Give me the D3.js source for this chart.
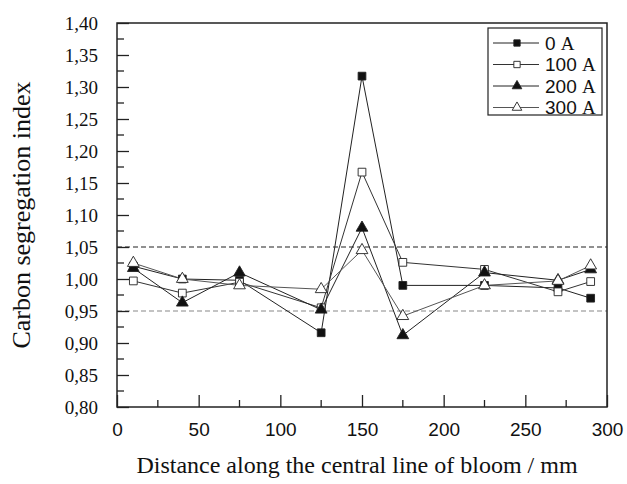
<!DOCTYPE html>
<html>
<head>
<meta charset="utf-8">
<script src="https://cdnjs.cloudflare.com/ajax/libs/d3/7.8.5/d3.min.js"></script>
<style>
  body { margin: 0; background: #fff; }
  svg { display: block; }
  .serif { font-family: "Liberation Serif", "Times New Roman", "DejaVu Serif", serif; }
  .sans { font-family: "Liberation Sans", Arial, sans-serif; }
</style>
</head>
<body>
<svg id="chart" width="627" height="484"></svg>
<script>
// data
var distances = [10, 40, 75, 125, 150, 175, 225, 270, 290];
var current0 = [1.020, 1.000, 0.998, 0.916, 1.317, 0.990, 0.990, 0.986, 0.970];
var current100 = [0.997, 0.978, 0.995, 0.955, 1.167, 1.026, 1.015, 0.980, 0.996];
var current200 = [1.017, 0.963, 1.010, 0.952, 1.080, 0.912, 1.010, 0.998, 1.015];
var current300 = [1.025, 1.000, 0.990, 0.984, 1.045, 0.942, 0.990, 0.997, 1.021];
var seriesNames = ["0", "100", "200", "300"];
var xTicks = [0, 50, 100, 150, 200, 250, 300];
var yTicks = [0.80, 0.85, 0.90, 0.95, 1.00, 1.05, 1.10, 1.15, 1.20, 1.25, 1.30, 1.35, 1.40];
var limitLines = [1.05, 0.95];

var svg = d3.select("#chart");
var margin = { left: 117, top: 23, right: 20, bottom: 77 };
var W = 627 - margin.left - margin.right, H = 484 - margin.top - margin.bottom;

var x = d3.scaleLinear().domain([0, 300]).range([0, W]);
var y = d3.scaleLinear().domain([0.80, 1.40]).range([H, 0]);

var g = svg.append("g").attr("transform", "translate(" + margin.left + "," + margin.top + ")");

var styles = [
  { shape: d3.symbolSquare, size: 60, fill: "#111", line: "#222" },
  { shape: d3.symbolSquare, size: 60, fill: "#fff", line: "#333" },
  { shape: d3.symbolTriangle, size: 60, fill: "#111", line: "#222" },
  { shape: d3.symbolTriangle, size: 60, fill: "#fff", line: "#555" }
];
var allSeries = [current0, current100, current200, current300];

// limit lines
g.selectAll(".limit").data(limitLines).enter().append("line")
  .attr("x1", 0).attr("x2", W)
  .attr("y1", function(d){ return y(d); }).attr("y2", function(d){ return y(d); })
  .attr("stroke", function(d, i){ return i == 0 ? "#222" : "#888"; })
  .attr("stroke-width", 1.1)
  .attr("stroke-dasharray", "5,3");

// lines
var line = d3.line().x(function(d){ return x(d[0]); }).y(function(d){ return y(d[1]); });
allSeries.forEach(function(vals, i){
  var pts = distances.map(function(dx, j){ return [dx, vals[j]]; });
  g.append("path").datum(pts)
    .attr("d", line)
    .attr("fill", "none")
    .attr("stroke", styles[i].line)
    .attr("stroke-width", 1);
});

// markers (drawn after all lines)
allSeries.forEach(function(vals, i){
  var st = styles[i];
  g.selectAll(".m" + i).data(vals).enter().append("path")
    .attr("d", d3.symbol().type(st.shape).size(st.size))
    .attr("transform", function(d, j){ return "translate(" + x(distances[j]) + "," + y(d) + ")"; })
    .attr("fill", st.fill)
    .attr("stroke", "#222")
    .attr("stroke-width", 0.9);
});

// frame
g.append("rect").attr("width", W).attr("height", H)
  .attr("fill", "none").attr("stroke", "#222").attr("stroke-width", 1.5);

// axes with inward ticks
var xAxis = d3.axisBottom(x).tickValues(xTicks).tickSize(-12).tickPadding(16);
var gx = g.append("g").attr("transform", "translate(0," + H + ")").call(xAxis)
  .attr("font-family", null).attr("class", "sans");
gx.select(".domain").remove();
gx.selectAll("text").attr("font-size", 19).attr("fill", "#111");
gx.selectAll("line").attr("stroke", "#222").attr("stroke-width", 1.3);
gx.selectAll(".minor").data(d3.range(25, 300, 50)).enter().append("line")
  .attr("x1", function(d){ return x(d); }).attr("x2", function(d){ return x(d); })
  .attr("y1", 0).attr("y2", -7).attr("stroke", "#222").attr("stroke-width", 1.3);

var yAxis = d3.axisLeft(y).tickValues(yTicks).tickSize(-12).tickPadding(19)
  .tickFormat(function(d){ return d3.format(".2f")(d).replace(".", ","); });
var gy = g.append("g").call(yAxis).attr("font-family", null).attr("class", "serif");
gy.select(".domain").remove();
gy.selectAll("text").attr("font-size", 19).attr("fill", "#111");
gy.selectAll("line").attr("stroke", "#222").attr("stroke-width", 1.3);
gy.selectAll(".minor").data(d3.range(0.825, 1.40, 0.05)).enter().append("line")
  .attr("y1", function(d){ return y(d); }).attr("y2", function(d){ return y(d); })
  .attr("x1", 0).attr("x2", 7).attr("stroke", "#222").attr("stroke-width", 1.3);

// axis titles
svg.append("text").attr("class", "serif")
  .attr("transform", "translate(30," + (margin.top + H / 2) + ") rotate(-90)")
  .attr("text-anchor", "middle")
  .attr("font-size", 26).attr("fill", "#111")
  .text("Carbon segregation index");

svg.append("text").attr("class", "serif")
  .attr("x", margin.left + W / 2 - 5).attr("y", 473)
  .attr("text-anchor", "middle")
  .attr("font-size", 24).attr("fill", "#111")
  .text("Distance along the central line of bloom / mm");

// legend
var lg = svg.append("g").attr("transform", "translate(488,28)");
lg.append("rect").attr("width", 114).attr("height", 87)
  .attr("fill", "#fff").attr("stroke", "#222").attr("stroke-width", 1.2);
seriesNames.forEach(function(name, i){
  var st = styles[i];
  var ly = 15 + i * 21.5;
  lg.append("line").attr("x1", 5).attr("x2", 51).attr("y1", ly).attr("y2", ly)
    .attr("stroke", st.line).attr("stroke-width", 1);
  lg.append("path")
    .attr("d", d3.symbol().type(st.shape).size(40))
    .attr("transform", "translate(29," + ly + ")")
    .attr("fill", st.fill).attr("stroke", "#222").attr("stroke-width", 0.9);
  var t = lg.append("text").attr("x", 57).attr("y", ly + 6.5).attr("fill", "#111").attr("font-size", 19);
  t.append("tspan").attr("class", "sans").text(name + " ");
  t.append("tspan").attr("class", "serif").text("A");
});
</script>
</body>
</html>
